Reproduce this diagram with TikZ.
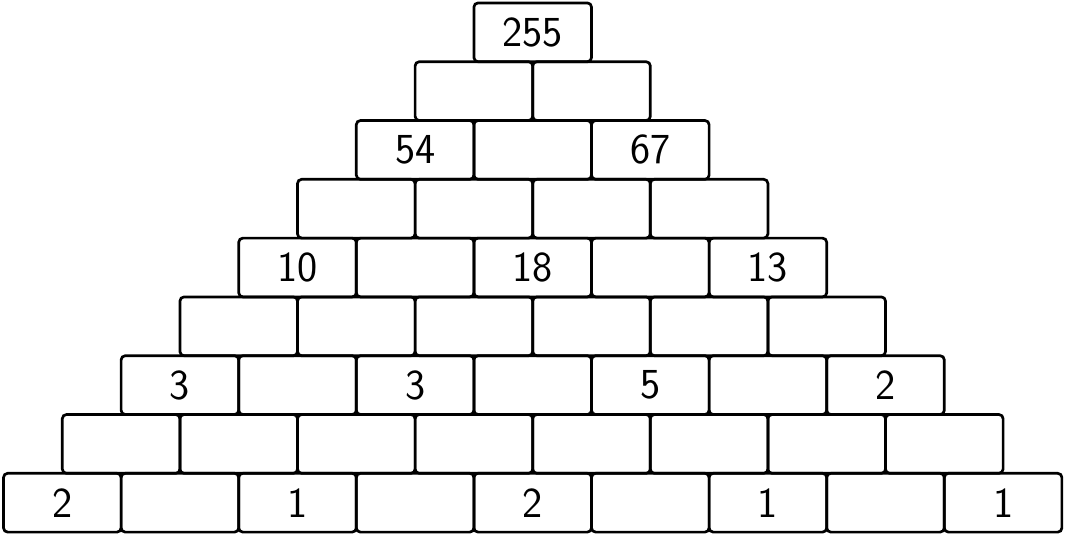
\documentclass[tikz,border=0pt]{standalone}
\begin{document}
\begin{tikzpicture}[thick, brick/.style = {draw, rounded corners=2pt, line width=1.3pt, minimum width=2cm, minimum height=1cm, inner sep=0pt, outer sep=0pt, font=\sffamily\fontsize{20.7}{24}\selectfont}]
      \useasboundingbox (-0.06,-0.05) rectangle (18.07,9.05);

      % one list of labels per row, bottom row first
      \foreach \r/\labels in {0/{2,{},1,{},2,{},1,{},1},
                              1/{{},{},{},{},{},{},{},{}},
                              2/{3,{},3,{},5,{},2},
                              3/{{},{},{},{},{},{}},
                              4/{10,{},18,{},13},
                              5/{{},{},{},{}},
                              6/{54,{},67},
                              7/{{},{}},
                              8/{255}}
        \foreach \t [count=\c] in \labels
          \node[brick] (b\r-\c) at ({\r+2*\c-1},{\r+0.5}) {\t};
    \end{tikzpicture}
\end{document}
